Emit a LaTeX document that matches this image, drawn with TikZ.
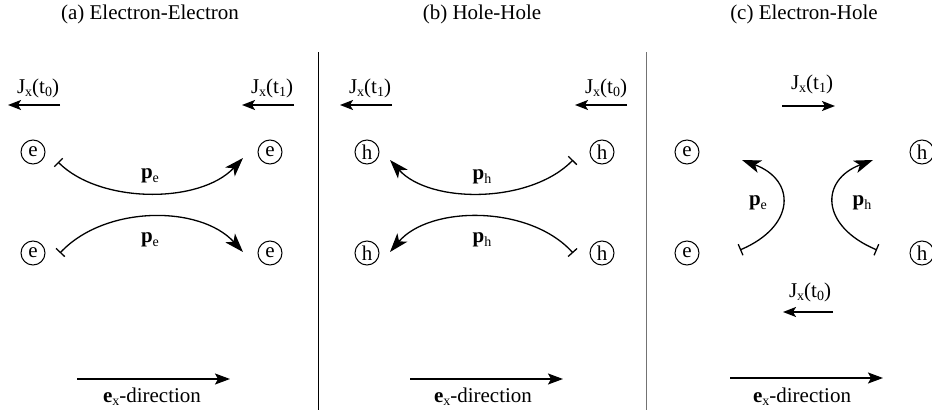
\documentclass[tikz,border=0pt]{standalone}
\usepackage{fontspec}
\setmainfont{Liberation Serif}
\usetikzlibrary{arrows.meta}
\newcommand{\lowsub}[1]{\raisebox{-0.35ex}{\fontsize{14}{14}\selectfont #1}}
\definecolor{divgray}{gray}{0.45}
\begin{document}
\begin{tikzpicture}[x=1pt,y=-1pt, font=\fontsize{21}{25}\selectfont,
  particle/.style={draw, circle, minimum size=24pt, inner sep=0pt, line width=1pt},
  lbl/.style={inner sep=0pt},
  curarrow/.style={line width=1.3pt, {Bar[width=12pt,line width=1.3pt]}-{Stealth[length=19pt,width=13pt,inset=5pt]}},
  jarrow/.style={line width=1.6pt, -{Stealth[length=13pt,width=10pt,inset=3pt]}},
  exarrow/.style={line width=1.5pt, -{Stealth[length=15pt,width=11pt,inset=3pt]}},
  divider/.style={line width=1pt}]
\useasboundingbox (0,0) rectangle (932,415);

% titles
\node[lbl] (ta) at (150,14) {(a) Electron-Electron};
\node[lbl] (tb) at (482,14) {(b) Hole-Hole};
\node[lbl] (tc) at (804,14) {(c) Electron-Hole};

% dividers
\coordinate (d1t) at (318,52); \coordinate (d1b) at (318,410);
\coordinate (d2t) at (646,52); \coordinate (d2b) at (646,410);
\draw[divider] (d1t) -- (d1b);
\draw[divider, divgray] (d2t) -- (d2b);

% ---------- panel a ----------
\node[lbl] (ja0) at (38,88) {J\lowsub{x}(t\lowsub{0})};
\coordinate (ja0s) at (60,105); \coordinate (ja0e) at (8,105);
\draw[jarrow] (ja0s) -- (ja0e);
\node[lbl] (ja1) at (272,88) {J\lowsub{x}(t\lowsub{1})};
\coordinate (ja1s) at (294,105); \coordinate (ja1e) at (242,105);
\draw[jarrow] (ja1s) -- (ja1e);

\node[particle] (a1) at (33,152) {e};
\node[particle] (a2) at (270,152) {e};
\node[particle] (a3) at (33,253) {e};
\node[particle] (a4) at (270,253) {e};

\coordinate (au1) at (58,162); \coordinate (au2) at (243,158);
\draw[curarrow] (au1) .. controls (100,204) and (200,204) .. (au2);
\node[lbl] (pa1) at (150,176) {\textbf{p}\lowsub{e}};
\coordinate (al1) at (60,253); \coordinate (al2) at (243,252);
\draw[curarrow] (al1) .. controls (105,205) and (200,205) .. (al2);
\node[lbl] (pa2) at (150,240) {\textbf{p}\lowsub{e}};

\coordinate (xa1) at (77,379); \coordinate (xa2) at (230,379);
\draw[exarrow] (xa1) -- (xa2);
\node[lbl] (xla) at (152,397) {\textbf{e}\lowsub{x}-direction};

% ---------- panel b ----------
\node[lbl] (jb1) at (370,88) {J\lowsub{x}(t\lowsub{1})};
\coordinate (jb1s) at (392,105); \coordinate (jb1e) at (340,105);
\draw[jarrow] (jb1s) -- (jb1e);
\node[lbl] (jb0) at (606,88) {J\lowsub{x}(t\lowsub{0})};
\coordinate (jb0s) at (627,105); \coordinate (jb0e) at (575,105);
\draw[jarrow] (jb0s) -- (jb0e);

\node[particle] (b1) at (367,152) {h};
\node[particle] (b2) at (602,152) {h};
\node[particle] (b3) at (367,253) {h};
\node[particle] (b4) at (602,253) {h};

\coordinate (bu1) at (573,160); \coordinate (bu2) at (390,160);
\draw[curarrow] (bu1) .. controls (530,204) and (430,204) .. (bu2);
\node[lbl] (pb1) at (482,177) {\textbf{p}\lowsub{h}};
\coordinate (bl1) at (573,253); \coordinate (bl2) at (390,252);
\draw[curarrow] (bl1) .. controls (530,205) and (430,205) .. (bl2);
\node[lbl] (pb2) at (482,240) {\textbf{p}\lowsub{h}};

\coordinate (xb1) at (410,379); \coordinate (xb2) at (563,379);
\draw[exarrow] (xb1) -- (xb2);
\node[lbl] (xlb) at (483,397) {\textbf{e}\lowsub{x}-direction};

% ---------- panel c ----------
\node[lbl] (jc1) at (812,84) {J\lowsub{x}(t\lowsub{1})};
\coordinate (jc1s) at (782,106); \coordinate (jc1e) at (835,106);
\draw[jarrow] (jc1s) -- (jc1e);

\node[particle] (c1) at (687,152) {e};
\node[particle] (c2) at (922,152) {h};
\node[particle] (c3) at (687,253) {e};
\node[particle] (c4) at (922,253) {h};

\coordinate (cl1) at (740,250); \coordinate (cl2) at (742,160);
\draw[curarrow] (cl1) .. controls (796,226) and (796,180) .. (cl2);
\node[lbl] (pc1) at (758,203) {\textbf{p}\lowsub{e}};
\coordinate (cr1) at (877,250); \coordinate (cr2) at (873,160);
\draw[curarrow] (cr1) .. controls (820,226) and (820,180) .. (cr2);
\node[lbl] (pc2) at (862,203) {\textbf{p}\lowsub{h}};

\node[lbl] (jc0) at (810,292) {J\lowsub{x}(t\lowsub{0})};
\coordinate (jc0s) at (833,312); \coordinate (jc0e) at (783,312);
\draw[jarrow] (jc0s) -- (jc0e);

\coordinate (xc1) at (730,378); \coordinate (xc2) at (883,378);
\draw[exarrow] (xc1) -- (xc2);
\node[lbl] (xlc) at (802,397) {\textbf{e}\lowsub{x}-direction};
\end{tikzpicture}
\end{document}
